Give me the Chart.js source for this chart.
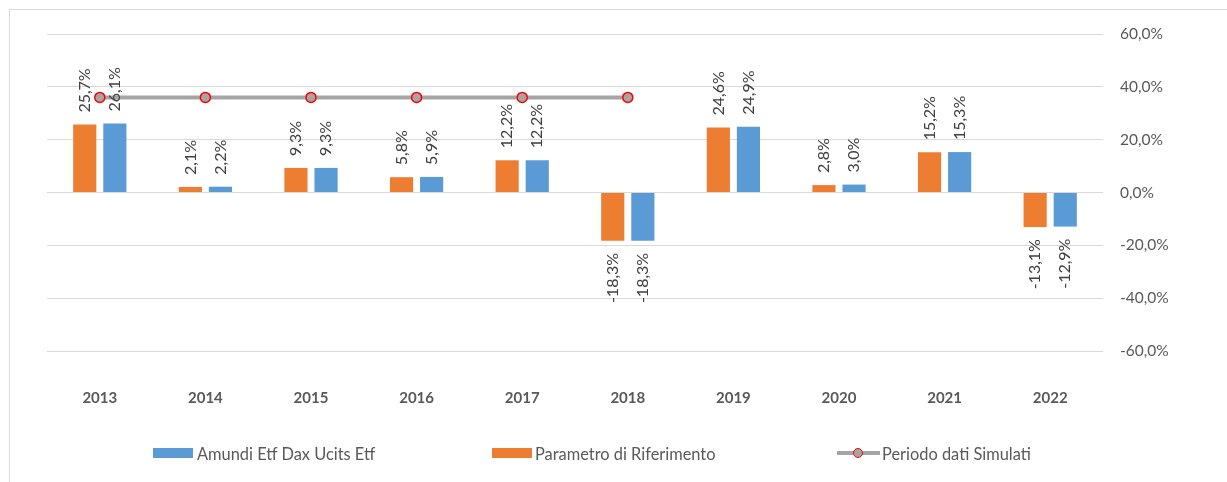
<!DOCTYPE html>
<html><head><meta charset="utf-8">
<script src="https://cdn.jsdelivr.net/npm/chart.js@4"></script>
<style>
html,body{margin:0;padding:0;background:#fff;width:1227px;height:482px;overflow:hidden;font-family:Lato,"Open Sans",sans-serif;}
#frame{position:absolute;left:9px;top:9px;width:1240px;height:490px;border:1px solid #d9d9d9;box-sizing:border-box;}
#c{position:absolute;left:0;top:0;}
.item{position:absolute;top:442px;height:22px;display:flex;align-items:center;white-space:nowrap;font-size:16.4px;color:#595959;}
.box{width:40px;height:10px;margin-right:4px;}
.lineKey{position:relative;width:43px;height:18px;margin-right:2px;}
.lineKey .ln{position:absolute;left:0;top:7px;width:43px;height:4px;background:#a5a5a5;}
.lineKey .dot{position:absolute;left:16px;top:4px;width:8px;height:8px;border-radius:50%;background:#a5a5a5;border:1.5px solid #ff0000;}
</style></head>
<body>
<div id="frame"></div>
<canvas id="c" width="1227" height="482"></canvas>
<div class="item" style="left:153px"><span class="box" style="background:#5B9BD5"></span>Amundi Etf Dax Ucits Etf</div>
<div class="item" style="left:492px"><span class="box" style="background:#ED7D31;margin-right:3px"></span>Parametro di Riferimento</div>
<div class="item" style="left:837px"><span class="lineKey"><span class="ln"></span><span class="dot"></span></span>Periodo dati Simulati</div>
<script>
const years = ["2013","2014","2015","2016","2017","2018","2019","2020","2021","2022"];
const amundi = [26.1, 2.2, 9.3, 5.9, 12.2, -18.3, 24.9, 3.0, 15.3, -12.9];
const parametro = [25.7, 2.1, 9.3, 5.8, 12.2, -18.3, 24.6, 2.8, 15.2, -13.1];
const simulati = [36, 36, 36, 36, 36, 36, null, null, null, null];
const yTicks = [-60, -40, -20, 0, 20, 40, 60];

const fmt = v => v.toFixed(1).replace('.', ',') + '%';

const labelPlugin = {
  id: 'barLabels',
  afterDatasetsDraw(chart) {
    const ctx = chart.ctx;
    ctx.save();
    ctx.font = '16px Lato, "Open Sans", sans-serif';
    ctx.fillStyle = '#404040';
    ctx.textBaseline = 'middle';
    chart.data.datasets.forEach((ds, di) => {
      if (ds.type !== 'bar') return;
      const meta = chart.getDatasetMeta(di);
      meta.data.forEach((el, i) => {
        const v = ds.data[i];
        if (v == null) return;
        ctx.save();
        const off = 12;
        ctx.translate(el.x, v >= 0 ? el.y - off : el.y + off);
        ctx.rotate(-Math.PI / 2);
        ctx.textAlign = v >= 0 ? 'left' : 'right';
        ctx.fillText(fmt(v), 0, 0);
        ctx.restore();
      });
    });
    ctx.restore();
  }
};

new Chart(document.getElementById('c'), {
  data: {
    labels: years,
    datasets: [
      {
        type: 'line', label: 'Periodo dati Simulati', data: simulati, order: 0,
        borderColor: '#a5a5a5', borderWidth: 4, pointRadius: 5, pointHoverRadius: 5,
        pointBackgroundColor: '#a5a5a5', pointBorderColor: '#ff0000', pointBorderWidth: 1.5,
        spanGaps: false, fill: false, tension: 0
      },
      {
        type: 'bar', label: 'Parametro di Riferimento', data: parametro, order: 1,
        backgroundColor: '#ED7D31', categoryPercentage: 0.57, barPercentage: 0.77
      },
      {
        type: 'bar', label: 'Amundi Etf Dax Ucits Etf', data: amundi, order: 1,
        backgroundColor: '#5B9BD5', categoryPercentage: 0.57, barPercentage: 0.77
      }
    ]
  },
  options: {
    responsive: false,
    animation: false,
    devicePixelRatio: 1,
    layout: { padding: { left: 47, top: 34, right: 0, bottom: 0 } },
    plugins: { legend: { display: false }, tooltip: { enabled: false } },
    scales: {
      x: {
        grid: { display: false, drawTicks: false },
        border: { display: false },
        ticks: { color: '#595959', font: { family: 'Lato', size: 15, weight: 'bold' }, padding: 38, maxRotation: 0 },
        afterFit(s) { s.height = 131; }
      },
      y: {
        position: 'right',
        min: -60, max: 60,
        afterBuildTicks(s) { s.ticks = yTicks.map(v => ({ value: v })); },
        grid: { color: '#d9d9d9', lineWidth: 1, drawTicks: false },
        border: { display: false },
        ticks: { color: '#595959', font: { family: 'Lato', size: 15.5 }, padding: 17, callback: v => fmt(v) },
        afterFit(s) { s.width = 124; }
      }
    }
  },
  plugins: [labelPlugin]
});
</script>
</body></html>
